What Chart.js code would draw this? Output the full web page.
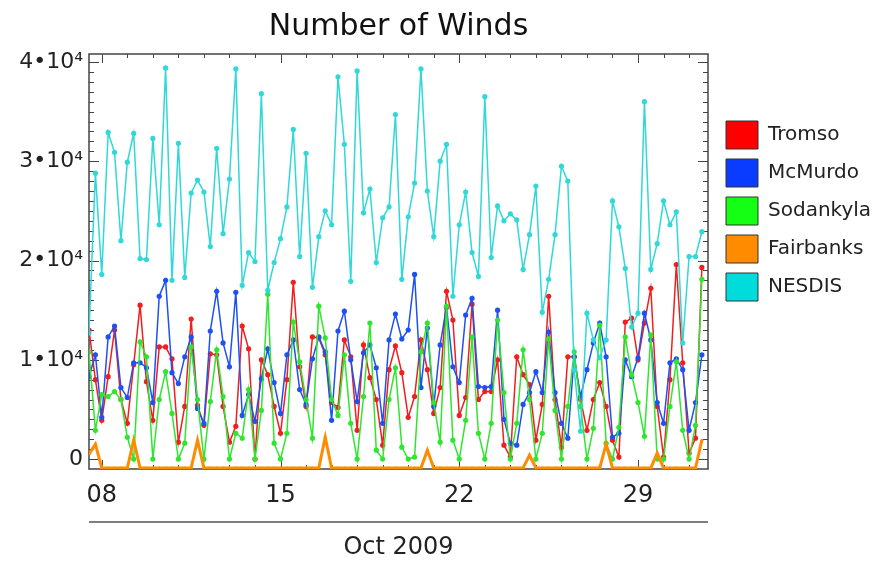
<!DOCTYPE html>
<html>
<head>
<meta charset="utf-8">
<script src="https://cdn.jsdelivr.net/npm/chart.js@4/dist/chart.umd.min.js"></script>
<style>
html, body { margin: 0; padding: 0; background: #fff; }
</style>
</head>
<body>
<canvas id="canvas" width="872" height="562"></canvas>
<script>
// station names and colours
var stations = ['Tromso', 'McMurdo', 'Sodankyla', 'Fairbanks', 'NESDIS'];
var lineColors = ['#f01e1e', '#1e50f5', '#2ee62e', '#ff8c00', '#30d8d8'];
var boxColors = ['#ff0000', '#0a3cff', '#14ff14', '#ff8c00', '#00dcdc'];

// 6-hourly samples, starting Oct 7 12:00 (day of month)
var firstDay = 7.5;
var stepDay = 0.25;
var dayTicks = [8, 15, 22, 29];
var yTicks = [0, 10000, 20000, 30000, 40000];
var yTickLabels = ['0', '1•10⁴', '2•10⁴', '3•10⁴', '4•10⁴'];

var tromso = [13000, 8000, 3900, 8300, 13000, 6000, 3600, 9500, 15500, 7800, 3900, 11300, 11300, 10100, 1700, 5300,
    14100, 5400, 3400, 10600, 10500, 5300, 1700, 3300, 13400, 11100, 0, 10000, 8500, 5300, 2600, 8000,
    17800, 9300, 5300, 12300, 12200, 10500, 5700, 5200, 12000, 10300, 2900, 11500, 8200, 6000, 1400, 9000,
    11400, 8700, 4200, 6300, 12000, 9000, 4600, 7200, 16900, 14000, 4400, 6200, 15600, 6000, 6800, 6800,
    10000, 1400, 200, 10300, 8500, 7500, 1900, 5500, 16400, 6000, 1200, 10300, 10300, 6000, 2900, 6000,
    7700, 5300, 1900, 200, 13800, 14200, 10000, 13700, 17200, 5300, 200, 8000, 19600, 9700, 600, 2100, 19300];

var mcmurdo = [8300, 10500, 4200, 12300, 13400, 7200, 6200, 9700, 9700, 9200, 5700, 16400, 18000, 8700, 7600, 10300,
    12300, 5100, 3600, 12900, 16900, 11700, 9300, 16800, 4400, 6500, 3800, 8100, 11100, 7700, 4600, 10500,
    12000, 7000, 5500, 10100, 12300, 10800, 3900, 12900, 14900, 10000, 5800, 10700, 11500, 9200, 3600, 12000,
    14600, 12100, 13000, 18600, 7200, 13200, 5300, 11500, 15300, 9300, 7700, 14500, 16200, 7300, 7200, 7300,
    15000, 4000, 1600, 1400, 5500, 6700, 8800, 6700, 12800, 6700, 3600, 2100, 10300, 6300, 9000, 11700,
    13700, 10300, 2200, 2600, 10000, 8300, 10200, 14700, 12000, 5700, 3600, 9700, 10100, 9000, 2900, 5700, 10500];

var sodankyla = [10800, 2900, 6500, 6300, 6800, 6000, 2200, 0, 11800, 10300, 0, 6000, 8800, 4600, 0, 1600,
    11300, 6000, 0, 5800, 11000, 6300, 0, 2600, 2100, 7000, 0, 4900, 16600, 1600, 0, 2600,
    13800, 9800, 6000, 2100, 15400, 12200, 6000, 4400, 10500, 3600, 0, 6300, 13700, 900, 0, 6000,
    9200, 1200, 0, 200, 10800, 13700, 5700, 1700, 15400, 1900, 0, 3900, 12300, 2600, 0, 3600,
    14000, 6700, 0, 3600, 11000, 6000, 0, 2600, 12100, 4900, 0, 5300, 10800, 5300, 0, 3100,
    13500, 1600, 0, 3200, 12300, 8500, 5700, 2300, 12500, 0, 0, 5300, 9800, 2900, 0, 3400, 18100];

var fairbanks = [500, 1500, -900, -900, -900, -900, -900, 1900, -900, -900, -900, -900, -900, -900, -900, -900,
    -900, 1900, -900, -900, -900, -900, -900, -900, -900, -900, -900, -900, -900, -900, -900, -900,
    -900, -900, -900, -900, -900, 2200, -900, -900, -900, -900, -900, -900, -900, -900, -900, -900,
    -900, -900, -900, -900, -900, 900, -900, -900, -900, -900, -900, -900, -900, -900, -900, -900,
    -900, -900, -900, -900, -900, 400, -900, -900, -900, -900, -900, -900, -900, -900, -900, -900,
    -900, 1500, -900, -900, -900, -900, -900, -900, -900, 600, -900, -900, -900, -900, -900, -900, 1900];

var nesdis = [12700, 28800, 18600, 32900, 30900, 22000, 29900, 32800, 20200, 20100, 32300, 23600, 39400, 18000, 31800, 18300,
    26800, 28100, 26900, 21400, 31300, 22700, 28200, 39300, 17500, 20800, 19900, 36800, 17000, 19800, 22200, 25400,
    33200, 20400, 30800, 17300, 22400, 25000, 23600, 38500, 31700, 17900, 39100, 24800, 27200, 19800, 24300, 25400,
    34700, 18100, 24400, 27800, 39300, 27000, 22400, 30000, 31700, 16400, 23600, 26900, 20800, 18400, 36500, 20300,
    25500, 24000, 24700, 24100, 19100, 22600, 27500, 14800, 18100, 22600, 29500, 28000, 9000, 2800, 14700, 12000,
    10200, 12000, 26000, 23400, 19200, 13300, 14700, 36000, 19100, 21700, 26000, 23600, 24900, 11700, 20400, 20400, 22900];

var allSeries = [tromso, mcmurdo, sodankyla, fairbanks, nesdis];

function toPoints(arr) {
    return arr.map(function (v, i) { return {x: firstDay + i * stepDay, y: v}; });
}

var datasets = allSeries.map(function (arr, k) {
    var isFair = k === 3;
    return {
        label: stations[k],
        data: toPoints(arr),
        borderColor: lineColors[k],
        backgroundColor: lineColors[k],
        pointBackgroundColor: lineColors[k],
        pointBorderWidth: 0,
        pointRadius: isFair ? 1.5 : 2.6,
        borderWidth: isFair ? 3 : 1.5,
        fill: false,
        tension: 0,
        order: stations.length - k   // later stations drawn on top
    };
});

var font = 'DejaVu Sans';

// box, inward tick marks, and rule above the month label
var framePlugin = {
    id: 'frame',
    beforeDatasetsDraw: function (chart) {
        var ctx = chart.ctx, a = chart.chartArea;
        var xs = chart.scales.x, ys = chart.scales.y;
        ctx.save();
        ctx.strokeStyle = '#444';
        ctx.lineWidth = 1.5;
        ctx.strokeRect(a.left, a.top, a.right - a.left, a.bottom - a.top);
        ctx.lineWidth = 1;
        ctx.beginPath();
        for (var d = Math.ceil(xs.min); d <= xs.max; d++) {
            var px = Math.round(xs.getPixelForValue(d)) + 0.5;
            var len = dayTicks.indexOf(d) >= 0 ? 9 : 4;
            ctx.moveTo(px, a.top); ctx.lineTo(px, a.top + len);
            ctx.moveTo(px, a.bottom); ctx.lineTo(px, a.bottom - len);
        }
        for (var v = 0; v <= ys.max; v += 1000) {
            var py = Math.round(ys.getPixelForValue(v)) + 0.5;
            var l2 = v % 10000 === 0 ? 10 : 5;
            ctx.moveTo(a.left, py); ctx.lineTo(a.left + l2, py);
            ctx.moveTo(a.right, py); ctx.lineTo(a.right - l2, py);
        }
        ctx.stroke();
        ctx.strokeStyle = '#555';
        ctx.lineWidth = 1.5;
        ctx.beginPath();
        ctx.moveTo(xs.left, xs.bottom - 40);
        ctx.lineTo(xs.right, xs.bottom - 40);
        ctx.stroke();
        ctx.restore();
    }
};

var config = {
    type: 'line',
    data: { datasets: datasets },
    options: {
        responsive: false,
        animation: false,
        layout: { padding: 0 },
        scales: {
            x: {
                type: 'linear',
                min: 7.5,
                max: 31.74,
                afterFit: function (s) { s.height = 93; },
                afterBuildTicks: function (s) {
                    s.ticks = dayTicks.map(function (d) { return {value: d}; });
                },
                ticks: {
                    autoSkip: false,
                    maxRotation: 0,
                    padding: 12,
                    color: '#222',
                    font: { family: font, size: 24 },
                    callback: function (v) { return (v < 10 ? '0' : '') + v; }
                },
                title: {
                    display: true,
                    text: 'Oct 2009',
                    color: '#222',
                    font: { family: font, size: 24 },
                    padding: { top: 0, bottom: 0 }
                },
                grid: { display: false, drawTicks: false },
                border: { display: false }
            },
            y: {
                min: -1000,
                max: 40800,
                afterFit: function (s) { s.width = 89; },
                afterBuildTicks: function (s) {
                    s.ticks = yTicks.map(function (v) { return {value: v}; });
                },
                ticks: {
                    padding: 6,
                    color: '#222',
                    font: { family: font, size: 22 },
                    callback: function (v) { return yTickLabels[yTicks.indexOf(v)]; }
                },
                grid: { display: false, drawTicks: false },
                border: { display: false }
            },
            y2: {
                position: 'right',
                display: true,
                afterFit: function (s) { s.width = 8; },
                ticks: { display: false },
                grid: { display: false, drawTicks: false },
                border: { display: false }
            }
        },
        plugins: {
            title: {
                display: true,
                text: 'Number of Winds',
                fullSize: false,
                color: '#111',
                font: { family: font, size: 30, weight: 'normal' },
                padding: { top: 9, bottom: 9 }
            },
            legend: {
                position: 'right',
                align: 'start',
                maxWidth: 156,
                title: { display: true, text: '', font: { size: 10 }, padding: { top: 99, bottom: 0 } },
                labels: {
                    boxWidth: 32,
                    boxHeight: 28,
                    padding: 10,
                    color: '#222',
                    font: { family: font, size: 20 },
                    sort: function (a, b) { return a.datasetIndex - b.datasetIndex; },
                    generateLabels: function (chart) {
                        var items = Chart.defaults.plugins.legend.labels.generateLabels(chart);
                        items.forEach(function (it) {
                            it.fillStyle = boxColors[it.datasetIndex];
                            it.strokeStyle = '#333';
                            it.lineWidth = 1;
                        });
                        return items;
                    }
                }
            },
            tooltip: { enabled: false }
        }
    },
    plugins: [framePlugin]
};

window.onload = function () {
    var ctx = document.getElementById('canvas').getContext('2d');
    window.myLine = new Chart(ctx, config);
};
</script>
</body>
</html>
